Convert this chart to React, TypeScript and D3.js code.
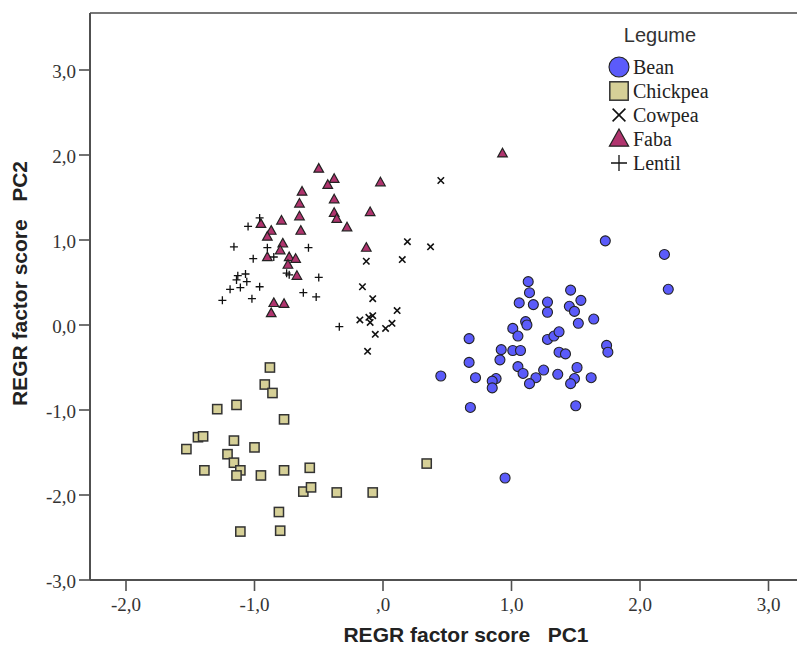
import React from 'react';
import * as d3 from 'd3';

// ---- Data (REGR factor scores PC1, PC2) ----
const bean: [number, number][] = [
  [1.73, 0.99], [2.19, 0.83], [2.22, 0.42], [1.13, 0.51], [1.14, 0.38], [1.46, 0.41],
  [1.06, 0.26], [1.17, 0.24], [1.28, 0.27], [1.54, 0.29], [1.45, 0.22], [1.49, 0.16],
  [1.28, 0.15], [1.64, 0.07], [1.52, 0.02], [1.11, 0.04], [1.12, 0.0], [1.01, -0.04],
  [1.05, -0.13], [0.67, -0.16], [1.28, -0.17], [1.33, -0.13], [1.37, -0.08], [1.74, -0.24],
  [1.75, -0.32], [0.92, -0.29], [1.01, -0.3], [1.07, -0.3], [1.37, -0.32], [1.42, -0.34],
  [0.91, -0.41], [0.67, -0.44], [1.05, -0.49], [1.09, -0.57], [1.25, -0.53], [1.51, -0.5],
  [0.45, -0.6], [0.72, -0.62], [0.88, -0.63], [0.85, -0.66], [0.85, -0.74], [1.19, -0.62],
  [1.14, -0.69], [1.36, -0.58], [1.49, -0.63], [1.46, -0.69], [1.62, -0.62], [0.68, -0.97],
  [1.5, -0.95], [0.95, -1.8],
];

const chickpea: [number, number][] = [
  [-0.88, -0.5], [-0.92, -0.7], [-0.86, -0.8], [-1.29, -0.99], [-1.14, -0.94], [-0.77, -1.11],
  [-1.44, -1.32], [-1.4, -1.31], [-1.53, -1.46], [-1.16, -1.36], [-1.0, -1.44], [-1.21, -1.52],
  [-1.16, -1.62], [-1.11, -1.71], [-1.14, -1.77], [-1.39, -1.71], [-0.95, -1.77], [-0.77, -1.71],
  [-0.57, -1.68], [-0.62, -1.96], [-0.56, -1.91], [-0.36, -1.97], [-0.08, -1.97], [0.34, -1.63],
  [-0.81, -2.2], [-1.11, -2.43], [-0.8, -2.42],
];

const cowpea: [number, number][] = [
  [0.45, 1.7], [0.19, 0.98], [0.37, 0.92], [0.15, 0.77], [-0.13, 0.75], [-0.16, 0.45],
  [-0.08, 0.31], [0.11, 0.17], [-0.18, 0.06], [-0.11, 0.09], [-0.08, 0.11], [-0.1, 0.03],
  [0.07, 0.02], [0.02, -0.04], [-0.06, -0.11], [-0.12, -0.31],
];

const faba: [number, number][] = [
  [-0.5, 1.84], [-0.38, 1.72], [-0.43, 1.65], [-0.02, 1.68], [-0.63, 1.57], [-0.65, 1.43],
  [-0.38, 1.48], [-0.65, 1.28], [-0.38, 1.32], [-0.36, 1.25], [-0.1, 1.33], [-0.79, 1.23],
  [-0.28, 1.15], [-0.95, 1.19], [-0.87, 1.11], [-0.9, 1.04], [-0.64, 1.11], [-0.13, 0.91],
  [-0.78, 0.96], [-0.8, 0.88], [-0.9, 0.8], [-0.73, 0.8], [-0.68, 0.78], [-0.74, 0.71],
  [-0.67, 0.58], [-0.85, 0.26], [-0.77, 0.25], [-0.87, 0.14], [0.93, 2.02],
];

const lentil: [number, number][] = [
  [-0.96, 1.26], [-1.05, 1.16], [-1.16, 0.92], [-0.9, 0.91], [-0.58, 0.91], [-1.01, 0.78],
  [-0.85, 0.8], [-0.75, 0.61], [-0.73, 0.59], [-0.5, 0.56], [-1.13, 0.58], [-1.07, 0.6],
  [-1.14, 0.53], [-1.06, 0.51], [-1.11, 0.44], [-1.19, 0.42], [-0.96, 0.45], [-1.25, 0.29],
  [-1.02, 0.31], [-0.62, 0.38], [-0.52, 0.33], [-0.34, -0.02],
];

const legendLabels = ['Bean', 'Chickpea', 'Cowpea', 'Faba', 'Lentil'];
const xTicks = [-2, -1, 0, 1, 2, 3];
const xTickLabels = ['-2,0', '-1,0', ',0', '1,0', '2,0', '3,0'];
const yTicks = [-3, -2, -1, 0, 1, 2, 3];
const yTickLabels = ['-3,0', '-2,0', '-1,0', '0,0', '1,0', '2,0', '3,0'];

const BEAN_FILL = '#5b5bfa';
const CHICK_FILL = '#d6d097';
const FABA_FILL = '#b0346e';
const STROKE = '#222';

function Marker({ kind, cx, cy, s }: { kind: string; cx: number; cy: number; s: number }) {
  if (kind === 'Bean') {
    return <circle cx={cx} cy={cy} r={5 * s} fill={BEAN_FILL} stroke={STROKE} strokeWidth={1.1} />;
  }
  if (kind === 'Chickpea') {
    const h = 4.6 * s;
    return <rect x={cx - h} y={cy - h} width={2 * h} height={2 * h} fill={CHICK_FILL} stroke="#333" strokeWidth={1.5} />;
  }
  if (kind === 'Cowpea') {
    const h = 3.2 * s;
    return (
      <path d={`M${cx - h},${cy - h}L${cx + h},${cy + h}M${cx - h},${cy + h}L${cx + h},${cy - h}`} stroke="#111" strokeWidth={1.6} fill="none" />
    );
  }
  if (kind === 'Faba') {
    const w = 4.8 * s;
    const hTop = 5 * s;
    const hBot = 3.6 * s;
    return (
      <path d={`M${cx},${cy - hTop}L${cx + w},${cy + hBot}L${cx - w},${cy + hBot}Z`} fill={FABA_FILL} stroke={STROKE} strokeWidth={1.2} strokeLinejoin="miter" />
    );
  }
  const h = 4 * s;
  return (
    <path d={`M${cx - h},${cy}L${cx + h},${cy}M${cx},${cy - h}L${cx},${cy + h}`} stroke="#111" strokeWidth={1.3} fill="none" />
  );
}

export default function App() {
  const W = 797;
  const H = 645;
  const left = 90;
  const right = 797;
  const top = 13;
  const bottom = 580;

  const x = d3.scaleLinear().domain([-2, 3]).range([126, 768.5]);
  const y = d3.scaleLinear().domain([-3, 3]).range([580, 70]);

  const series: [string, [number, number][]][] = [
    ['Bean', bean],
    ['Chickpea', chickpea],
    ['Cowpea', cowpea],
    ['Faba', faba],
    ['Lentil', lentil],
  ];

  const axisColor = '#505050';
  const tickFont = '"Liberation Serif", "Times New Roman", serif';
  const sansFont = '"Liberation Sans", Arial, sans-serif';

  return (
    <svg width={W} height={H} style={{ position: 'absolute', left: 0, top: 0, background: '#fff' }}>
      <rect x={0} y={0} width={W} height={H} fill="#fff" />
      {/* frame */}
      <line x1={left} x2={right} y1={top} y2={top} stroke="#777" strokeWidth={2} />
      <line x1={left} x2={left} y1={top} y2={bottom} stroke={axisColor} strokeWidth={2} />
      <line x1={left} x2={right} y1={bottom} y2={bottom} stroke={axisColor} strokeWidth={2} />

      {/* y ticks */}
      {yTicks.map((t, i) => (
        <g key={'y' + t}>
          <line x1={left - 11} x2={left} y1={y(t)} y2={y(t)} stroke={axisColor} strokeWidth={1.6} />
          <text x={76} y={y(t) + 8} textAnchor="end" fontFamily={tickFont} fontSize={19} fill="#333">
            {yTickLabels[i]}
          </text>
        </g>
      ))}
      {/* x ticks */}
      {xTicks.map((t, i) => (
        <g key={'x' + t}>
          <line x1={x(t)} x2={x(t)} y1={bottom} y2={bottom + 11} stroke={axisColor} strokeWidth={1.6} />
          <text x={x(t)} y={611} textAnchor="middle" fontFamily={tickFont} fontSize={19} fill="#333">
            {xTickLabels[i]}
          </text>
        </g>
      ))}

      {/* axis titles */}
      <text x={466} y={642} textAnchor="middle" fontFamily={sansFont} fontWeight="bold" fontSize={21} fill="#222" style={{ whiteSpace: 'pre' }}>
        {'REGR factor score   PC1'}
      </text>
      <text
        transform={`translate(27,${(top + bottom) / 2 - 13}) rotate(-90)`}
        textAnchor="middle"
        fontFamily={sansFont}
        fontWeight="bold"
        fontSize={21}
        fill="#222"
        style={{ whiteSpace: 'pre' }}
      >
        {'REGR factor score   PC2'}
      </text>

      {/* points */}
      {series.map(([name, pts]) => (
        <g key={name}>
          {pts.map((p, i) => (
            <Marker key={i} kind={name} cx={x(p[0])} cy={y(p[1])} s={1} />
          ))}
        </g>
      ))}

      {/* legend */}
      <text x={660} y={42} textAnchor="middle" fontFamily={sansFont} fontSize={20} fill="#333">
        Legume
      </text>
      {legendLabels.map((name, i) => {
        const cy = 67 + i * 24;
        return (
          <g key={name}>
            <Marker kind={name} cx={619} cy={cy} s={2} />
            <text x={633} y={cy + 7} fontFamily={tickFont} fontSize={20} fill="#222">
              {name}
            </text>
          </g>
        );
      })}
    </svg>
  );
}
